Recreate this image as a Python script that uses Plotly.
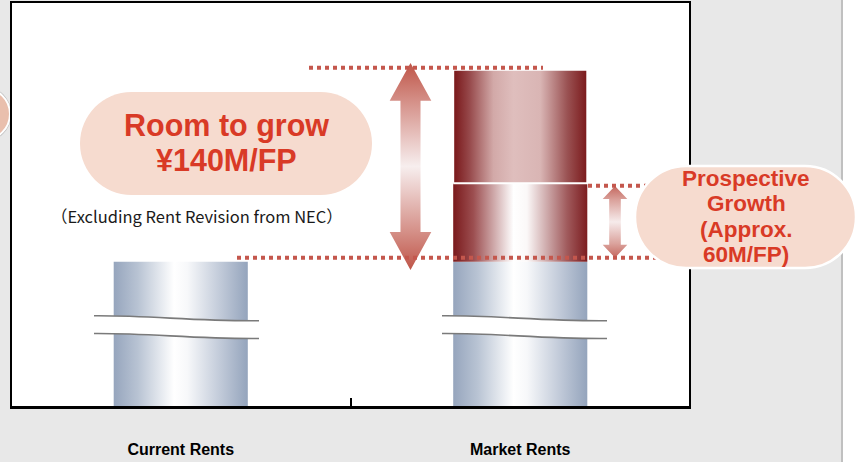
import numpy as np
import plotly.graph_objects as go

# ---------------- data ----------------
categories = ["Current Rents", "Market Rents"]
base_values = [108, 108]          # truncated (broken) current-rent level, drawn units
growth_segment = [0, 58]          # Prospective Growth (Approx. 60M/FP)
upper_segment = [0, 84]           # remaining room to grow
bubble_main = ["Room to grow", "¥140M/FP"]
bubble_side = ["Prospective", "Growth", "(Approx.", "60M/FP)"]
note_text = "（Excluding Rent Revision from NEC）"

# ---------------- geometry helpers ----------------
FW, FH = 863, 462
L, R, T, B = 11, 690, 2, 408
W, H = R - L, B - T
YMAX = 300
XR = (-0.5, 1.5)

def pxx(x):
    return (x - L) / W

def pxy(y):
    return (B - y) / H

def dx(px):
    return XR[0] + (px - L) / W * (XR[1] - XR[0])

def P(x, y):
    return f"{pxx(x):.5f},{pxy(y):.5f}"

def pill(x0, y0, x1, y1):
    r = (y1 - y0) / 2
    k = 0.5523 * r
    ym = (y0 + y1) / 2
    return (f"M{P(x0 + r, y0)} L{P(x1 - r, y0)} "
            f"C{P(x1 - r + k, y0)} {P(x1, ym - k)} {P(x1, ym)} "
            f"C{P(x1, ym + k)} {P(x1 - r + k, y1)} {P(x1 - r, y1)} "
            f"L{P(x0 + r, y1)} "
            f"C{P(x0 + r - k, y1)} {P(x0, ym + k)} {P(x0, ym)} "
            f"C{P(x0, ym - k)} {P(x0 + r - k, y0)} {P(x0 + r, y0)} Z")

xpos = np.arange(len(categories))
bw = 0.395

blue_cs = [[0, "#96a5bd"], [0.18, "#b8c3d3"], [0.45, "#ffffff"], [0.55, "#f7f8fa"],
           [0.8, "#c0c9d8"], [1, "#94a4bc"]]
mid_cs = [[0, "#7a1a1c"], [0.15, "#9c4e50"], [0.45, "#ffffff"], [0.55, "#fbf8f8"],
          [0.85, "#a05a5c"], [1, "#7c1d20"]]
top_cs = [[0, "#781517"], [0.12, "#96484a"], [0.3, "#d2a9a8"], [0.45, "#dfbebd"],
          [0.65, "#d9b5b4"], [0.85, "#9a5253"], [1, "#7a181a"]]

fig = go.Figure()

def rect_trace(i, y0, y1, cs, line_w=0):
    xs = [i - bw / 2, i + bw / 2, i + bw / 2, i - bw / 2, i - bw / 2]
    ys = [y0, y0, y1, y1, y0]
    fig.add_trace(go.Scatter(
        x=xs, y=ys, mode="lines", fill="toself",
        fillgradient=dict(type="horizontal", colorscale=cs),
        line=dict(width=line_w, color="white"), hoverinfo="skip", showlegend=False))

for i in range(len(categories)):
    rect_trace(xpos[i], 0, base_values[i], blue_cs)
    if growth_segment[i] > 0:
        g0 = base_values[i]
        g1 = g0 + growth_segment[i]
        rect_trace(xpos[i], g0, g1, mid_cs)
        rect_trace(xpos[i], g1, g1 + upper_segment[i], top_cs, line_w=2)

mi = 1
base_top = base_values[mi]
growth_top = base_values[mi] + growth_segment[mi]
total_top = growth_top + upper_segment[mi]

def arrow(cx, top, bot, hw, sw, hl, cs):
    xs = [cx, cx + hw, cx + sw, cx + sw, cx + hw, cx, cx - hw, cx - sw, cx - sw, cx - hw, cx]
    ys = [top, top - hl, top - hl, bot + hl, bot + hl, bot, bot + hl, bot + hl, top - hl, top - hl, top]
    fig.add_trace(go.Scatter(
        x=xs, y=ys, mode="lines", fill="toself",
        fillgradient=dict(type="vertical", colorscale=cs),
        line=dict(width=0), hoverinfo="skip", showlegend=False))

big_cs = [[0, "#bf5548"], [0.18, "#d48e86"], [0.5, "#f7eeee"], [0.82, "#d48e86"], [1, "#bf5548"]]
small_cs = [[0, "#c4675e"], [0.2, "#dba39d"], [0.5, "#f6ebeb"], [0.8, "#dba39d"], [1, "#c4675e"]]
arrow(dx(410.5), total_top + 5, base_top - 6, 0.0613, 0.0295, 28, big_cs)
arrow(dx(615), growth_top - 2, base_top + 3, 0.0362, 0.0171, 9.6, small_cs)

shapes = []
# right white page region and separator
shapes.append(dict(type="rect", xref="paper", yref="paper", x0=pxx(843), x1=pxx(880),
                   y0=pxy(480), y1=pxy(-20), fillcolor="white", line=dict(width=0), layer="below"))
shapes.append(dict(type="line", xref="paper", yref="paper", x0=pxx(842), x1=pxx(842),
                   y0=pxy(480), y1=pxy(-20), line=dict(color="#c0c0c0", width=2), layer="below"))
# left partial circle
shapes.append(dict(type="circle", xref="paper", yref="paper", x0=pxx(-45), x1=pxx(11.5),
                   y0=pxy(142), y1=pxy(86), fillcolor="#bdbdbd", line=dict(width=0)))
shapes.append(dict(type="circle", xref="paper", yref="paper", x0=pxx(-43), x1=pxx(10),
                   y0=pxy(140), y1=pxy(88), fillcolor="#e9bfad", line=dict(color="white", width=2)))
# plot border
shapes.append(dict(type="rect", xref="paper", yref="paper", x0=0, x1=1, y0=0, y1=1,
                   line=dict(color="black", width=2), fillcolor="rgba(0,0,0,0)"))
shapes.append(dict(type="line", xref="paper", yref="paper", x0=0, x1=1, y0=pxy(407.5), y1=pxy(407.5),
                   line=dict(color="black", width=3)))
# dotted guide lines
dot = dict(color="#c4574d", width=4, dash="4px,4px")
shapes.append(dict(type="line", xref="x", yref="y", x0=dx(309), x1=dx(543),
                   y0=total_top + 1.5, y1=total_top + 1.5, line=dot))
shapes.append(dict(type="line", xref="x", yref="y", x0=dx(237), x1=dx(660),
                   y0=base_top + 3, y1=base_top + 3, line=dot))
shapes.append(dict(type="line", xref="x", yref="y", x0=dx(588), x1=dx(660),
                   y0=growth_top - 1.7, y1=growth_top - 1.7, line=dot))

# axis break marks
def brk(x0, x1, yu0=315.7, yu1=320.7, gap=17.8):
    a = x0 + 0.35 * (x1 - x0)
    b = x0 + 0.6 * (x1 - x0)
    up = f"M{P(x0, yu0)} C{P(a, yu0 - 0.4)} {P(b, yu1 + 0.6)} {P(x1, yu1)}"
    lo = f"M{P(x0, yu0 + gap)} C{P(a, yu0 + gap - 0.4)} {P(b, yu1 + gap + 0.6)} {P(x1, yu1 + gap)}"
    band = (f"M{P(x0, yu0)} C{P(a, yu0 - 0.4)} {P(b, yu1 + 0.6)} {P(x1, yu1)} "
            f"L{P(x1, yu1 + gap)} C{P(b, yu1 + gap + 0.6)} {P(a, yu0 + gap - 0.4)} {P(x0, yu0 + gap)} Z")
    shapes.append(dict(type="path", xref="paper", yref="paper", path=band,
                       fillcolor="white", line=dict(width=0)))
    for p in (up, lo):
        shapes.append(dict(type="path", xref="paper", yref="paper", path=p,
                           line=dict(color="#7a7a7a", width=1.6)))

brk(94, 259)
brk(442, 607)

# bubbles
shapes.append(dict(type="path", xref="paper", yref="paper", path=pill(80, 92, 372, 195),
                   fillcolor="#f6dbcf", line=dict(width=0)))
shapes.append(dict(type="path", xref="paper", yref="paper", path=pill(635, 166, 856, 268),
                   fillcolor="#f6dbcf", line=dict(color="white", width=2.5)))

fig.update_layout(shapes=shapes)

red = "#d93a26"
ann = []
for t, y in zip(bubble_main, [125, 160]):
    ann.append(dict(text=f"<b>{t}</b>", x=pxx(226), y=pxy(y), xref="paper", yref="paper",
                    showarrow=False, xanchor="center", yanchor="middle",
                    font=dict(family="Liberation Sans", size=30.5, color=red)))
for t, y in zip(bubble_side, [178.5, 204, 229.5, 255]):
    ann.append(dict(text=f"<b>{t}</b>", x=pxx(746), y=pxy(y), xref="paper", yref="paper",
                    showarrow=False, xanchor="center", yanchor="middle",
                    font=dict(family="Liberation Sans", size=22.5, color=red)))
ann.append(dict(text=note_text, x=pxx(197), y=pxy(216), xref="paper", yref="paper",
                showarrow=False, xanchor="center", yanchor="middle",
                font=dict(family="Noto Sans CJK JP", size=16.5, color="#1a1a1a")))

fig.update_layout(
    annotations=ann,
    width=FW, height=FH,
    margin=dict(l=L, r=FW - R, t=T, b=FH - B),
    paper_bgcolor="#e8e8e8", plot_bgcolor="white",
    showlegend=False,
    xaxis=dict(range=list(XR), tickvals=list(xpos),
               ticktext=[f"<b>{c}</b>" for c in categories],
               tickfont=dict(family="Liberation Sans", size=16, color="black"),
               ticks="", showgrid=False, zeroline=False, showline=False,
               ticklabelstandoff=30,
               minor=dict(tickvals=[0.5], ticks="inside", ticklen=10, tickwidth=1.5,
                          tickcolor="black", showgrid=False)),
    yaxis=dict(range=[0, YMAX], visible=False, showgrid=False, zeroline=False),
)

fig.write_html("out.html")
